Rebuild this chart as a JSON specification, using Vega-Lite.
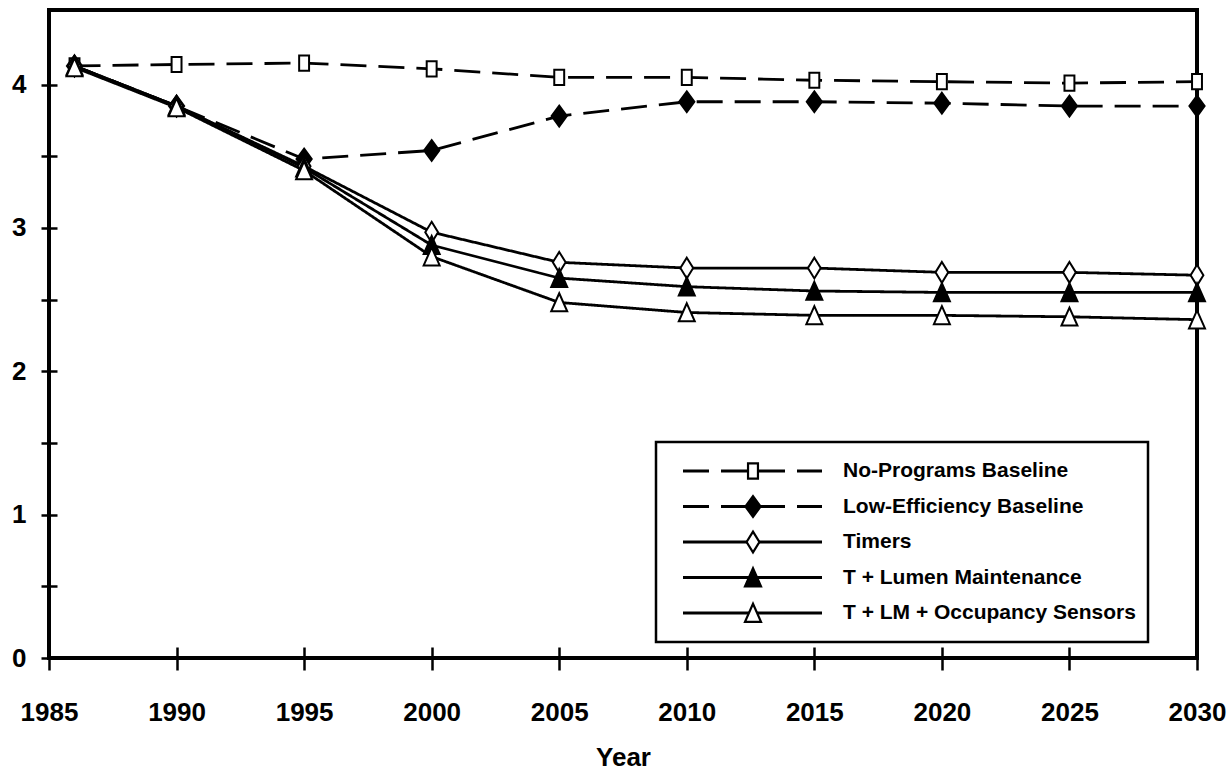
{
  "$schema": "https://vega.github.io/schema/vega-lite/v6.json",
  "width": 1148,
  "height": 648,
  "autosize": {"type": "none"},
  "padding": {"left": 49, "top": 10, "right": 35, "bottom": 113},
  "background": "white",
  "config": {
    "view": {"stroke": "black", "strokeWidth": 4},
    "font": "Liberation Sans"
  },
  "data": {
    "values": [
      {"series": "No-Programs Baseline", "year": 1986, "value": 4.13},
      {"series": "No-Programs Baseline", "year": 1990, "value": 4.14},
      {"series": "No-Programs Baseline", "year": 1995, "value": 4.15},
      {"series": "No-Programs Baseline", "year": 2000, "value": 4.11},
      {"series": "No-Programs Baseline", "year": 2005, "value": 4.05},
      {"series": "No-Programs Baseline", "year": 2010, "value": 4.05},
      {"series": "No-Programs Baseline", "year": 2015, "value": 4.03},
      {"series": "No-Programs Baseline", "year": 2020, "value": 4.02},
      {"series": "No-Programs Baseline", "year": 2025, "value": 4.01},
      {"series": "No-Programs Baseline", "year": 2030, "value": 4.02},
      {"series": "Low-Efficiency Baseline", "year": 1986, "value": 4.13},
      {"series": "Low-Efficiency Baseline", "year": 1990, "value": 3.85},
      {"series": "Low-Efficiency Baseline", "year": 1995, "value": 3.48},
      {"series": "Low-Efficiency Baseline", "year": 2000, "value": 3.54},
      {"series": "Low-Efficiency Baseline", "year": 2005, "value": 3.78},
      {"series": "Low-Efficiency Baseline", "year": 2010, "value": 3.88},
      {"series": "Low-Efficiency Baseline", "year": 2015, "value": 3.88},
      {"series": "Low-Efficiency Baseline", "year": 2020, "value": 3.87},
      {"series": "Low-Efficiency Baseline", "year": 2025, "value": 3.85},
      {"series": "Low-Efficiency Baseline", "year": 2030, "value": 3.85},
      {"series": "Timers", "year": 1986, "value": 4.13},
      {"series": "Timers", "year": 1990, "value": 3.85},
      {"series": "Timers", "year": 1995, "value": 3.43},
      {"series": "Timers", "year": 2000, "value": 2.97},
      {"series": "Timers", "year": 2005, "value": 2.76},
      {"series": "Timers", "year": 2010, "value": 2.72},
      {"series": "Timers", "year": 2015, "value": 2.72},
      {"series": "Timers", "year": 2020, "value": 2.69},
      {"series": "Timers", "year": 2025, "value": 2.69},
      {"series": "Timers", "year": 2030, "value": 2.67},
      {"series": "T + Lumen Maintenance", "year": 1986, "value": 4.13},
      {"series": "T + Lumen Maintenance", "year": 1990, "value": 3.85},
      {"series": "T + Lumen Maintenance", "year": 1995, "value": 3.42},
      {"series": "T + Lumen Maintenance", "year": 2000, "value": 2.88},
      {"series": "T + Lumen Maintenance", "year": 2005, "value": 2.65},
      {"series": "T + Lumen Maintenance", "year": 2010, "value": 2.59},
      {"series": "T + Lumen Maintenance", "year": 2015, "value": 2.56},
      {"series": "T + Lumen Maintenance", "year": 2020, "value": 2.55},
      {"series": "T + Lumen Maintenance", "year": 2025, "value": 2.55},
      {"series": "T + Lumen Maintenance", "year": 2030, "value": 2.55},
      {"series": "T + LM + Occupancy Sensors", "year": 1986, "value": 4.12},
      {"series": "T + LM + Occupancy Sensors", "year": 1990, "value": 3.84},
      {"series": "T + LM + Occupancy Sensors", "year": 1995, "value": 3.40},
      {"series": "T + LM + Occupancy Sensors", "year": 2000, "value": 2.80},
      {"series": "T + LM + Occupancy Sensors", "year": 2005, "value": 2.48},
      {"series": "T + LM + Occupancy Sensors", "year": 2010, "value": 2.41},
      {"series": "T + LM + Occupancy Sensors", "year": 2015, "value": 2.39},
      {"series": "T + LM + Occupancy Sensors", "year": 2020, "value": 2.39},
      {"series": "T + LM + Occupancy Sensors", "year": 2025, "value": 2.38},
      {"series": "T + LM + Occupancy Sensors", "year": 2030, "value": 2.36}
    ]
  },
  "encoding": {
    "x": {
      "field": "year",
      "type": "quantitative",
      "scale": {"domain": [1985, 2030], "nice": false, "zero": false},
      "axis": {
        "values": [1985, 1990, 1995, 2000, 2005, 2010, 2015, 2020, 2025, 2030],
        "format": "d",
        "domain": false,
        "grid": false,
        "offset": -11,
        "tickSize": 23,
        "tickWidth": 2.5,
        "tickColor": "black",
        "labelPadding": 29,
        "labelFont": "Liberation Sans",
        "labelFontSize": 26,
        "labelFontWeight": "bold",
        "labelColor": "black",
        "labelFlush": false,
        "labelOverlap": false,
        "title": "Year",
        "titleFont": "Liberation Sans",
        "titleFontSize": 26,
        "titleFontWeight": "bold",
        "titleColor": "black",
        "titleBaseline": "alphabetic",
        "titleY": 118
      }
    },
    "y": {
      "field": "value",
      "type": "quantitative",
      "scale": {"domain": [0, 4.52], "nice": false, "zero": false},
      "axis": {
        "values": [0, 0.5, 1, 1.5, 2, 2.5, 3, 3.5, 4],
        "labelExpr": "datum.value % 1 === 0 ? format(datum.value, 'd') : ''",
        "domain": false,
        "grid": false,
        "offset": -8,
        "tickSize": 16,
        "tickWidth": 2.5,
        "tickColor": "black",
        "labelPadding": 15,
        "labelFont": "Liberation Sans",
        "labelFontSize": 26,
        "labelFontWeight": "bold",
        "labelColor": "black",
        "labelOverlap": false,
        "title": null
      }
    }
  },
  "layer": [
    {
      "mark": {"type": "line", "strokeWidth": 2.8, "color": "black"},
      "encoding": {
        "strokeDash": {
          "field": "series",
          "type": "nominal",
          "scale": {
            "domain": ["No-Programs Baseline", "Low-Efficiency Baseline", "Timers", "T + Lumen Maintenance", "T + LM + Occupancy Sensors"],
            "range": [[26, 12], [26, 12], [1, 0], [1, 0], [1, 0]]
          },
          "legend": {
            "title": null,
            "orient": "none",
            "legendX": 607,
            "legendY": 432,
            "zindex": 1,
            "padding": 12,
            "strokeColor": "black",
            "fillColor": "white",
            "symbolType": "stroke",
            "symbolSize": 19321,
            "symbolStrokeWidth": 2.8,
            "symbolStrokeColor": "black",
            "symbolOffset": 13.5,
            "labelOffset": 19.5,
            "clipHeight": 34,
            "rowPadding": 1.5,
            "labelFont": "Liberation Sans",
            "labelFontSize": 21,
            "labelFontWeight": "bold",
            "labelColor": "black",
            "labelLimit": 400,
            "encode": {
              "legend": {"update": {"strokeWidth": {"value": 2.5}}}
            }
          }
        }
      }
    },
    {
      "mark": {"type": "point", "filled": true, "size": 256, "strokeWidth": 2, "opacity": 1},
      "encoding": {
        "shape": {
          "field": "series",
          "type": "nominal",
          "scale": {
            "domain": ["T + LM + Occupancy Sensors", "T + Lumen Maintenance", "Timers", "Low-Efficiency Baseline", "No-Programs Baseline"],
            "range": [
              "M0,-1.15L1,1.1L-1,1.1Z",
              "M0,-1.15L1,1.1L-1,1.1Z",
              "M0,-1.3L0.8,0L0,1.3L-0.8,0Z",
              "M0,-1.3L0.95,0L0,1.3L-0.95,0Z",
              "M-0.62,-0.95L0.62,-0.95L0.62,0.95L-0.62,0.95Z"
            ]
          },
          "legend": {
            "title": null,
            "orient": "none",
            "legendX": 607,
            "legendY": 432,
            "zindex": 2,
            "values": ["No-Programs Baseline", "Low-Efficiency Baseline", "Timers", "T + Lumen Maintenance", "T + LM + Occupancy Sensors"],
            "padding": 12,
            "strokeColor": "transparent",
            "fillColor": "transparent",
            "symbolSize": 256,
            "symbolStrokeWidth": 2.2,
            "symbolOffset": 74.5,
            "labelOffset": 19.5,
            "clipHeight": 34,
            "rowPadding": 1.5,
            "labelFont": "Liberation Sans",
            "labelFontSize": 21,
            "labelExpr": "''",
            "labelLimit": 400
          }
        },
        "fill": {
          "field": "series",
          "type": "nominal",
          "scale": {
            "domain": ["T + LM + Occupancy Sensors", "T + Lumen Maintenance", "Timers", "Low-Efficiency Baseline", "No-Programs Baseline"],
            "range": ["white", "black", "white", "black", "white"]
          },
          "legend": {
            "title": null,
            "orient": "none",
            "legendX": 607,
            "legendY": 432,
            "zindex": 2,
            "values": ["No-Programs Baseline", "Low-Efficiency Baseline", "Timers", "T + Lumen Maintenance", "T + LM + Occupancy Sensors"],
            "padding": 12,
            "strokeColor": "transparent",
            "fillColor": "transparent",
            "symbolSize": 256,
            "symbolStrokeWidth": 2.2,
            "symbolOffset": 74.5,
            "labelOffset": 19.5,
            "clipHeight": 34,
            "rowPadding": 1.5,
            "labelFont": "Liberation Sans",
            "labelFontSize": 21,
            "labelExpr": "''",
            "labelLimit": 400
          }
        },
        "stroke": {
          "field": "series",
          "type": "nominal",
          "scale": {
            "domain": ["T + LM + Occupancy Sensors", "T + Lumen Maintenance", "Timers", "Low-Efficiency Baseline", "No-Programs Baseline"],
            "range": ["black", "black", "black", "black", "black"]
          },
          "legend": {
            "title": null,
            "orient": "none",
            "legendX": 607,
            "legendY": 432,
            "zindex": 2,
            "values": ["No-Programs Baseline", "Low-Efficiency Baseline", "Timers", "T + Lumen Maintenance", "T + LM + Occupancy Sensors"],
            "padding": 12,
            "strokeColor": "transparent",
            "fillColor": "transparent",
            "symbolSize": 256,
            "symbolStrokeWidth": 2.2,
            "symbolOffset": 74.5,
            "labelOffset": 19.5,
            "clipHeight": 34,
            "rowPadding": 1.5,
            "labelFont": "Liberation Sans",
            "labelFontSize": 21,
            "labelExpr": "''",
            "labelLimit": 400
          }
        }
      }
    }
  ]
}
